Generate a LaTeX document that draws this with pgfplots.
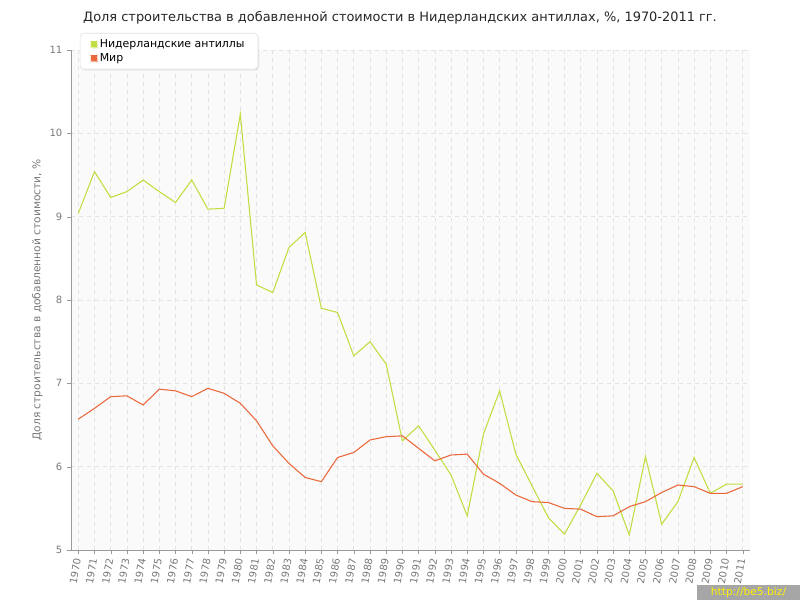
\documentclass[border=0pt]{standalone}
\usepackage{pgfplots}
\pgfplotsset{compat=1.18}
\usepackage{fontspec}
\setmainfont{DejaVu Sans}
\usetikzlibrary{shadows}
\definecolor{cgreen}{RGB}{192,222,64}
\definecolor{corange}{RGB}{234,104,58}
\definecolor{txtgray}{RGB}{120,120,120}
\begin{document}
\begin{tikzpicture}
\path[use as bounding box] (0,0) rectangle (600pt,450pt);
\node[font=\fontsize{9.7}{11}\selectfont, text=black!85] at (300pt,437pt) {Доля строительства в добавленной стоимости в Нидерландских антиллах, \%, 1970-2011 гг.};
\begin{axis}[
  at={(53.25pt,37.5pt)}, anchor=south west,
  width=509.25pt, height=375pt, scale only axis,
  xmin=1969.55, xmax=2011.45, ymin=5, ymax=11,
  axis x line*=bottom, axis y line*=left,
  axis line style={gray!80},
  axis background/.style={fill=black!2},
  xtick={1970,...,2011}, ytick={5,6,...,11},
  /pgf/number format/assume math mode=true,
  xticklabel={\pgfmathprintnumber[1000 sep={}]{\tick}},
  xticklabel style={rotate=80, anchor=east, font=\fontsize{7.5}{9}\selectfont, text=txtgray},
  yticklabel style={font=\fontsize{7.5}{9}\selectfont, text=txtgray},
  tick align=outside, major tick length=3pt,
  tick style={gray!80},
  grid=major, major grid style={dashed, gray!22},
  ylabel={Доля строительства в добавленной стоимости, \%},
  ylabel style={font=\fontsize{8}{9}\selectfont, text=txtgray, at={(axis description cs:-0.035,0.5)}},
  legend style={at={(axis description cs:0.013,1.034)}, anchor=north west,
    draw=gray!25, rounded corners=3pt, fill=white, drop shadow={opacity=0.15, shadow xshift=1pt, shadow yshift=-1pt},
    font=\fontsize{8.2}{9.5}\selectfont, row sep=-1pt, inner xsep=8pt, inner ysep=2.5pt},
  legend cell align=left,
  legend image code/.code={\fill[#1] (0.05cm,-0.07cm) rectangle (0.19cm,0.07cm);},
]
\addplot[cgreen, line width=0.8pt] coordinates {
(1970,9.04)(1971,9.54)(1972,9.23)(1973,9.30)(1974,9.44)(1975,9.30)(1976,9.17)(1977,9.44)(1978,9.09)(1979,9.10)
(1980,10.23)(1981,8.18)(1982,8.09)(1983,8.63)(1984,8.81)(1985,7.90)(1986,7.85)(1987,7.33)(1988,7.50)(1989,7.23)
(1990,6.31)(1991,6.49)(1992,6.20)(1993,5.90)(1994,5.41)(1995,6.39)(1996,6.91)(1997,6.15)(1998,5.77)(1999,5.39)
(2000,5.19)(2001,5.54)(2002,5.92)(2003,5.71)(2004,5.18)(2005,6.12)(2006,5.31)(2007,5.58)(2008,6.11)(2009,5.68)
(2010,5.79)(2011,5.79)};
\addlegendentry{Нидерландские антиллы}
\addplot[corange, line width=0.8pt] coordinates {
(1970,6.57)(1971,6.70)(1972,6.84)(1973,6.85)(1974,6.74)(1975,6.93)(1976,6.91)(1977,6.84)(1978,6.94)(1979,6.88)
(1980,6.76)(1981,6.55)(1982,6.25)(1983,6.04)(1984,5.87)(1985,5.82)(1986,6.11)(1987,6.17)(1988,6.32)(1989,6.36)
(1990,6.37)(1991,6.22)(1992,6.07)(1993,6.14)(1994,6.15)(1995,5.91)(1996,5.80)(1997,5.66)(1998,5.58)(1999,5.57)
(2000,5.50)(2001,5.49)(2002,5.40)(2003,5.41)(2004,5.52)(2005,5.58)(2006,5.69)(2007,5.78)(2008,5.76)(2009,5.68)
(2010,5.68)(2011,5.76)};
\addlegendentry{Мир}
\end{axis}
\fill[gray!70] (522.75pt,0pt) rectangle (600pt,11.25pt);
\node[font=\fontsize{8}{9}\selectfont, text=yellow, anchor=center] at (561.4pt,5.6pt) {http://be5.biz/};
\end{tikzpicture}
\end{document}
